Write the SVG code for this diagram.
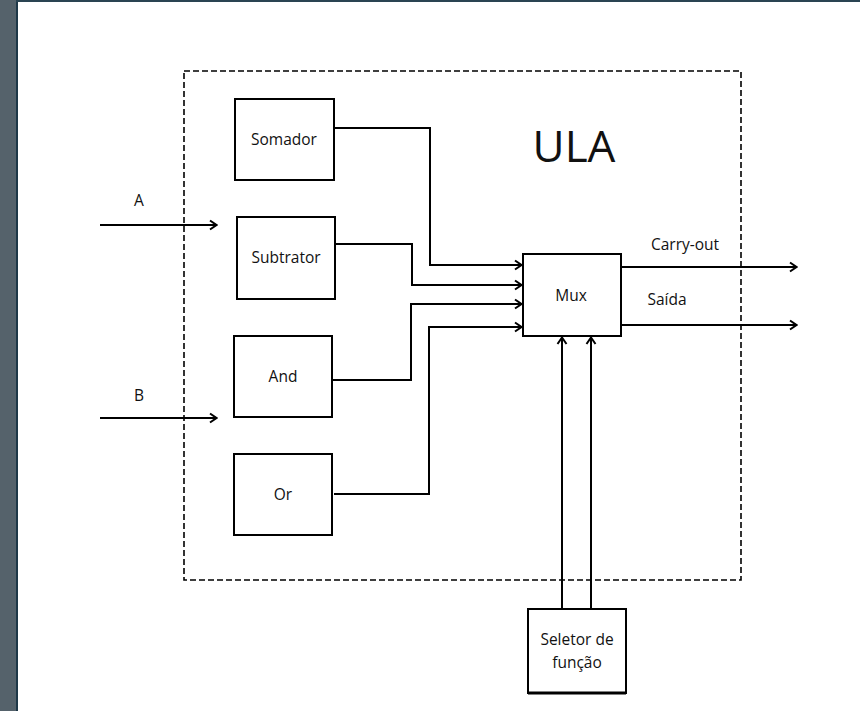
<svg xmlns="http://www.w3.org/2000/svg" width="860" height="711" viewBox="0 0 860 711">
<style>
.box{fill:#fff;stroke:#000;stroke-width:2}
.ln{fill:none;stroke:#000;stroke-width:2}
.t{font-family:"Open Sans","Liberation Sans",sans-serif;font-size:15.5px;fill:#111;text-anchor:middle}
</style>
<defs>
<marker id="ah" viewBox="0 0 12 12" refX="11" refY="6" markerWidth="12" markerHeight="12" markerUnits="userSpaceOnUse" orient="auto">
<polyline points="4,1.5 10.5,6 4,10.5" fill="none" stroke="#000" stroke-width="2"/>
</marker>
</defs>
<rect x="0" y="0" width="860" height="711" fill="#fff"/>
<rect x="0" y="0" width="16" height="711" fill="#55626b"/>
<rect x="16" y="0" width="2" height="711" fill="#1e3848"/>
<rect x="16" y="0" width="844" height="2" fill="#2a4452"/>
<rect x="184" y="71" width="557" height="509" fill="none" stroke="#000" stroke-width="1.6" stroke-dasharray="6,3"/>
<text x="574" y="162" font-family="Open Sans, Liberation Sans, sans-serif" font-size="44" fill="#111" text-anchor="middle">ULA</text>
<g id="connectors">
<polyline class="ln" points="334,128 430,128 430,265 522,265" marker-end="url(#ah)"/>
<polyline class="ln" points="335,244 412,244 412,285 522,285" marker-end="url(#ah)"/>
<polyline class="ln" points="332,380 411,380 411,304 522,304" marker-end="url(#ah)"/>
<polyline class="ln" points="334,494 429,494 429,327 522,327" marker-end="url(#ah)"/>
<line class="ln" x1="621" y1="267" x2="797" y2="267" marker-end="url(#ah)"/>
<line class="ln" x1="621" y1="325" x2="797" y2="325" marker-end="url(#ah)"/>
<line class="ln" x1="100" y1="225" x2="217" y2="225" marker-end="url(#ah)"/>
<line class="ln" x1="100" y1="418" x2="217" y2="418" marker-end="url(#ah)"/>
<line class="ln" x1="562" y1="609" x2="562" y2="337" marker-end="url(#ah)"/>
<line class="ln" x1="591" y1="609" x2="591" y2="337" marker-end="url(#ah)"/>
<text class="t" x="685" y="250">Carry-out</text>
<text class="t" x="667" y="305">Saída</text>
<text class="t" x="139" y="206">A</text>
<text class="t" x="139" y="401">B</text>
</g>
<g id="somador"><rect class="box" x="235" y="99" width="99" height="81"/><text class="t" x="284" y="145">Somador</text></g>
<g id="subtrator"><rect class="box" x="237" y="217" width="98" height="82"/><text class="t" x="286" y="263">Subtrator</text></g>
<g id="and"><rect class="box" x="234" y="336" width="98" height="81"/><text class="t" x="283" y="382">And</text></g>
<g id="or"><rect class="box" x="234" y="454" width="98" height="81"/><text class="t" x="283" y="500">Or</text></g>
<g id="mux"><rect class="box" x="523" y="254" width="98" height="82"/><text class="t" x="571" y="301">Mux</text></g>
<g id="seletor"><rect class="box" x="528" y="609" width="98" height="84"/><line x1="528" y1="693" x2="626" y2="693" stroke="#000" stroke-width="3"/><text class="t" x="577" y="645">Seletor de</text><text class="t" x="577" y="668">função</text></g>
</svg>
